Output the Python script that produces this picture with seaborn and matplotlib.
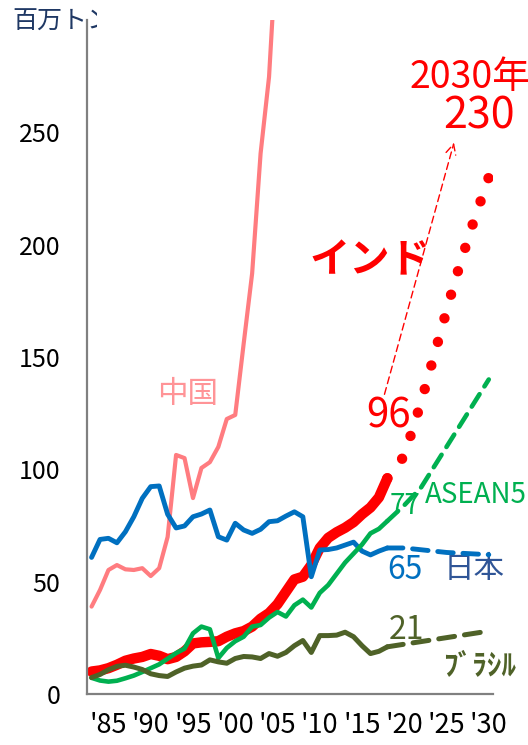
import matplotlib
matplotlib.use("Agg")
import matplotlib.pyplot as plt
import pandas as pd
import seaborn as sns
from matplotlib.transforms import Bbox, TransformedBbox

# ---- data (million tonnes) ----
hist_years = list(range(1983, 2019))
china_years = list(range(1983, 2006))
china = [38.9, 46.3, 55.2, 57.4, 55.5, 55.2, 56.0, 52.5, 56.0, 69.9, 106.4, 105.0,
         87.2, 100.6, 103.2, 110.0, 122.4, 124.2, 156.0, 187.2, 240.6, 274.7, 340.0]
japan = [60.8, 68.8, 69.3, 67.3, 72.2, 78.9, 87.1, 92.3, 92.6, 80.0, 73.9, 74.8,
         78.9, 80.1, 81.9, 70.0, 68.5, 76.0, 73.0, 71.5, 73.3, 76.7, 77.1, 79.2,
         81.1, 78.9, 52.2, 64.1, 64.3, 65.0, 66.3, 67.6, 63.6, 61.9, 63.6, 65.0]
india = [10.0, 10.5, 11.5, 13.0, 14.8, 15.8, 16.5, 17.8, 17.0, 15.5, 16.5, 19.0,
         22.5, 23.0, 23.2, 23.5, 25.5, 27.0, 28.0, 30.0, 33.5, 36.0, 40.0, 45.5,
         51.0, 52.2, 57.4, 65.0, 69.5, 72.0, 74.0, 76.5, 80.0, 83.0, 87.5, 96.0]
asean5 = [7.2, 6.0, 5.5, 5.9, 7.0, 8.2, 9.8, 11.5, 13.2, 15.7, 18.2, 20.2,
          27.0, 30.0, 28.8, 16.0, 20.5, 23.5, 25.5, 30.0, 30.7, 34.0, 36.5, 34.5,
          39.5, 42.0, 38.5, 45.0, 48.5, 53.5, 58.5, 62.5, 66.5, 71.5, 73.5, 77.0]
brazil = [7.3, 8.7, 10.8, 12.3, 12.8, 12.0, 10.9, 9.0, 8.2, 7.8, 9.8, 11.5,
          12.4, 12.9, 15.2, 14.3, 13.7, 15.8, 16.7, 16.5, 15.8, 18.0, 16.8, 18.5,
          21.5, 23.8, 18.5, 26.0, 26.0, 26.2, 27.5, 25.5, 21.5, 18.0, 19.0, 21.0]

# outlook to 2030
india_proj_years = [2018, 2020, 2022, 2024, 2026, 2028, 2030]
india_proj = [96, 106, 130, 157, 184, 208, 230]
asean_proj_years = [2018, 2020, 2022, 2025, 2028, 2030]
asean_proj = [77, 84, 92, 110, 128, 140]
japan_proj_years = [2018, 2020, 2025, 2030]
japan_proj = [65, 65, 63, 62]
brazil_proj_years = [2018, 2024, 2030]
brazil_proj = [21, 24.5, 28]

tick_years = list(range(1985, 2031, 5))
tick_labels = ["'85", "'90", "'95", "'00", "'05", "'10", "'15", "'20", "'25", "'30"]
y_ticks = [0, 50, 100, 150, 200, 250]

RED = "#FF0000"
PINK = "#FF7C80"
BLUE = "#0070C0"
GREEN = "#00B050"
OLIVE = "#4F6228"

sns.set_style("white")
plt.rcParams["font.family"] = ["Noto Sans CJK JP", "DejaVu Sans"]

fig = plt.figure(figsize=(5.28, 7.45), dpi=100)
ax = fig.add_axes([87 / 528, 1 - 694 / 745, (493 - 87) / 528, (694 - 20) / 745])

def line(xs, ys, **kw):
    df = pd.DataFrame({"year": xs, "value": ys})
    sns.lineplot(data=df, x="year", y="value", ax=ax, estimator=None, sort=False, **kw)

dash = (0, (3.2, 2.0))

# India (thick, with dotted outlook)
line(hist_years, india, color=RED, linewidth=7.5, solid_capstyle="round", zorder=2)
line(india_proj_years, india_proj, color=RED, linewidth=7.5,
     linestyle=(0, (0.001, 2.35)), dash_capstyle="round", zorder=2)
# China
line(china_years, china, color=PINK, linewidth=3.0, zorder=3)
# Japan
line(hist_years, japan, color=BLUE, linewidth=3.5, zorder=4)
line(japan_proj_years, japan_proj, color=BLUE, linewidth=3.5, linestyle=dash,
     dash_capstyle="round", zorder=4)
# ASEAN5
line(hist_years, asean5, color=GREEN, linewidth=3.3, zorder=5)
line(asean_proj_years, asean_proj, color=GREEN, linewidth=3.3, linestyle=dash,
     dash_capstyle="round", zorder=5)
# Brazil
line(hist_years, brazil, color=OLIVE, linewidth=3.6, zorder=6)
line(brazil_proj_years, brazil_proj, color=OLIVE, linewidth=3.6, linestyle=dash,
     dash_capstyle="round", zorder=6)

ax.set_xlim(1982.46, 2030.5)
ax.set_ylim(0, 300)
ax.set_xticks(tick_years)
ax.set_xticklabels(tick_labels)
ax.set_yticks(y_ticks)
ax.tick_params(axis="both", length=0, colors="black")
ax.tick_params(axis="x", pad=13, labelsize=19.5)
ax.tick_params(axis="y", pad=19, labelsize=18)
ax.set_xlabel("")
ax.set_ylabel("")
for side in ("top", "right"):
    ax.spines[side].set_visible(False)
for side in ("left", "bottom"):
    ax.spines[side].set_color("#808080")
    ax.spines[side].set_linewidth(1.6)

# unit label, its text box ends at the value axis
unit = fig.text(12 / 528, 1 - 22 / 745, "百万トン", color="#1F3864", fontsize=18,
                ha="left", va="center")
unit.set_clip_box(TransformedBbox(Bbox([[0, 0], [97 / 528, 1]]), fig.transFigure))
unit.set_clip_on(True)

# series labels
ax.text(1994.4, 133.5, "中国", color="#FF9497", fontsize=22, ha="center", va="center")
ax.text(2015.9, 193.0, "インド", color=RED, fontsize=29, fontweight="bold",
        ha="center", va="center")
ax.text(2020.65, 274.6, "2030年", color=RED, fontsize=27, ha="left", va="center")
ax.text(2028.9, 257.2, "230", color=RED, fontsize=31, ha="center", va="center")
ax.text(2018.2, 123.7, "96", color=RED, fontsize=29, ha="center", va="center")
ax.text(2020.1, 83.5, "77", color=GREEN, fontsize=20, ha="center", va="center", zorder=1)
ax.text(2022.4, 88.5, "ASEAN5", color=GREEN, fontsize=20, ha="left", va="center")
ax.text(2020.1, 55.2, "65", color=BLUE, fontsize=23, ha="center", va="center")
ax.text(2028.3, 55.2, "日本", color="#2F5597", fontsize=22, ha="center", va="center")
ax.text(2020.3, 28.5, "21", color=OLIVE, fontsize=23, ha="center", va="center")
ax.text(2028.9, 12.9, "ﾌﾞﾗｼﾙ", color=OLIVE, fontsize=21, fontweight="bold",
        ha="center", va="center")

# growth arrow toward the 2030 figure
ax.annotate("", xy=(2025.97, 246.6), xytext=(2017.57, 132.2),
            arrowprops=dict(arrowstyle="->", color=RED, lw=1.0, linestyle=(0, (5, 3)),
                            mutation_scale=18),
            annotation_clip=False)

fig.savefig("out.png", dpi=100)
